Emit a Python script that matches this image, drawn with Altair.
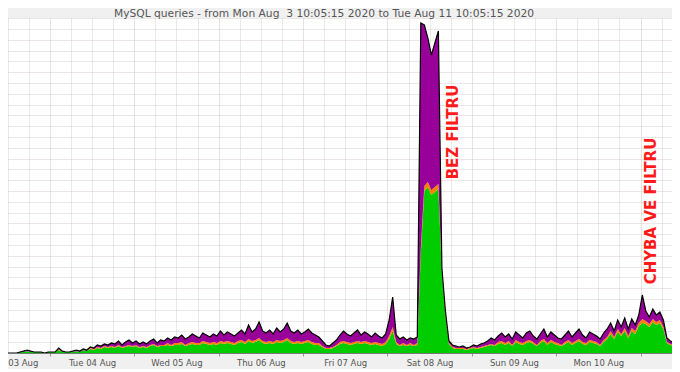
import altair as alt
import pandas as pd

# ---- data (hourly, starting Mon Aug 3 10:30) ----
series_names = ["select", "update", "cache_hits"]
series_colors = ["#00cc00", "#ff8000", "#990099"]

green = [0,0,0,0,0,1,1,2,1,1,
         1,1,0,1,1,1,3,1,1,1,
         1,2,1,3,2,4,3,5,4,6,
         5,6,5,7,5,6,7,6,7,5,
         6,5,7,8,6,7,7,8,7,8,
         8,9,7,8,9,8,8,10,9,8,
         9,8,10,9,10,9,8,10,11,9,
         12,10,11,13,10,9,10,9,11,10,
         11,13,10,9,10,9,10,11,9,8,
         8,6,4,4,5,7,9,10,9,8,
         9,10,9,10,9,8,9,8,7,9,
         14,22,9,7,8,7,8,7,8,100,
         162,166,158,161,164,80,38,9,5,4,
         4,4,3,4,5,4,5,6,7,8,
         7,9,10,8,10,7,11,9,8,10,
         11,9,7,10,12,8,11,9,8,7,
         9,11,8,10,12,9,8,11,10,9,
         7,11,14,19,14,21,17,22,15,22,
         19,27,30,29,26,31,28,30,24,10,
         8,7]
orange = [0,0,0,0,0,0,0,0,0,0,
          0,0,0,0,0,0,1,0,0,0,
          0,0,0,0,0,1,1,1,1,1,
          1,1,1,1,1,1,1,1,1,1,
          1,1,1,1,1,1,1,2,1,2,
          2,2,1,2,2,2,2,2,2,2,
          2,2,2,2,2,2,2,2,2,2,
          2,2,2,2,2,2,2,2,2,2,
          2,2,2,2,2,2,2,2,2,2,
          2,1,1,1,1,1,2,2,2,2,
          2,2,2,2,2,2,2,2,2,2,
          3,4,2,1,2,1,2,1,2,5,
          5,5,5,5,5,2,2,1,1,1,
          1,1,1,1,1,1,1,1,1,1,
          1,2,2,2,2,1,2,2,2,2,
          2,2,1,2,2,2,2,2,2,1,
          2,2,2,2,2,2,2,2,2,2,
          1,2,2,3,2,3,2,3,2,3,
          3,3,4,3,3,3,3,3,2,1,
          1,1]
purple = [0,0,0,0,0,0,1,1,1,0,
          0,0,0,0,0,0,1,1,0,0,
          1,1,1,1,1,1,1,2,2,2,
          2,3,3,4,2,4,5,3,4,3,
          4,3,4,5,3,5,4,5,5,6,
          5,7,6,6,8,7,5,8,7,6,
          8,7,10,7,9,8,7,8,10,8,
          14,9,11,16,10,9,11,8,12,9,
          11,15,10,9,11,8,9,11,9,8,
          6,5,3,2,4,5,7,10,8,7,
          9,11,7,9,8,6,9,7,6,8,
          16,30,7,6,6,5,5,6,6,225,
          161,144,135,144,153,3,2,2,2,2,
          1,2,1,1,2,2,3,3,4,6,
          5,6,8,6,7,6,8,7,5,8,
          9,6,6,7,10,6,8,7,5,6,
          7,9,6,8,10,7,5,8,7,6,
          6,7,8,8,6,9,7,10,7,9,
          6,8,24,10,7,10,7,8,7,4,
          3,2]

notes = ["BEZ FILTRU", "CHYBA VE FILTRU"]
note_times = ["2020-08-08T18:39:00", "2020-08-11T02:59:00"]
note_values = [221, 142]

title_text = "MySQL queries - from Mon Aug\u00a0 3 10:05:15 2020 to Tue Aug 11 10:05:15 2020"

# ---- tables ----
times = pd.date_range("2020-08-03 10:30", periods=len(green), freq="h").strftime("%Y-%m-%dT%H:%M:%S")
rows = []
for k, (name, vals) in enumerate(zip(series_names, [green, orange, purple])):
    for t, v in zip(times, vals):
        rows.append({"t": t, "v": v, "s": name, "k": k})
df = pd.DataFrame(rows)
notes_df = pd.DataFrame({"t": note_times, "y": note_values, "label": notes})

grid_times = pd.date_range("2020-08-03 12:00", "2020-08-11 06:00", freq="6h")
grid_vals = [alt.DateTime(year=g.year, month=g.month, date=g.day, hours=g.hour) for g in grid_times]

x_scale = alt.Scale(domain=[alt.DateTime(year=2020, month=8, date=3, hours=10, minutes=5, seconds=15),
                            alt.DateTime(year=2020, month=8, date=11, hours=10, minutes=5, seconds=15)])
y_scale = alt.Scale(domain=[0, 335], nice=False, zero=True)

first_label = "date(datum.value) == 3 && month(datum.value) == 7"
x_axis = alt.Axis(
    values=grid_vals, grid=True,
    gridColor={"condition": {"test": "hours(datum.value) == 0", "value": "#dcc0c0"}, "value": "#d2d2d2"},
    gridDash=[1, 1], gridWidth=1,
    labelExpr=("hours(datum.value) != 12 ? '' : (" + first_label +
               " ? timeFormat(datum.value, '%d %b') : timeFormat(datum.value, '%a %d %b'))"),
    labelAlign={"condition": {"test": first_label, "value": "left"}, "value": "center"},
    labelFont="DejaVu Sans", labelFontSize=8.5, labelColor="#555555",
    labelOverlap=False, labelFlush=False, labelPadding=2,
    tickSize=3,
    tickColor={"condition": {"test": "hours(datum.value) == 0", "value": "#999999"}, "value": "transparent"},
    domainColor="#777777", domainWidth=1, title=None,
)
y_axis = alt.Axis(
    orient="right", values=[round(10.8 * i, 1) for i in range(1, 32)],
    grid=True, gridColor="#d8cccc", gridDash=[1, 1], gridWidth=1,
    labels=False, ticks=False, domain=True, domainColor="#999999", title=None,
)

area = alt.Chart(df).mark_area(interpolate="linear", clip=True).encode(
    x=alt.X("t:T", scale=x_scale, axis=x_axis, title=None),
    y=alt.Y("v:Q", stack="zero", scale=y_scale, axis=y_axis, title=None),
    color=alt.Color("s:N", scale=alt.Scale(domain=series_names, range=series_colors), legend=None),
    order=alt.Order("k:Q", sort="ascending"),
)

line = alt.Chart(df).transform_aggregate(
    total="sum(v)", groupby=["t"]
).mark_line(color="black", strokeWidth=1.2, clip=True).encode(
    x=alt.X("t:T", scale=x_scale, axis=x_axis, title=None),
    y=alt.Y("total:Q", scale=y_scale, axis=y_axis, title=None),
)

text = alt.Chart(notes_df).mark_text(
    angle=270, font="DejaVu Sans", fontSize=15, fontWeight="bold", color="#ff1a1a",
    align="center", baseline="middle",
).encode(
    x=alt.X("t:T", scale=x_scale, axis=x_axis, title=None),
    y=alt.Y("y:Q", scale=y_scale, axis=y_axis, title=None),
    text="label:N",
)

title = alt.Chart(pd.DataFrame({"title": [title_text]})).mark_text(
    font="DejaVu Sans", fontSize=10.7, color="#555555", align="center", baseline="alphabetic",
).encode(x=alt.value(323), y=alt.value(-1.5), text="title:N")

chart = alt.layer(area, line, text, title).properties(
    width=675, height=335,
    padding={"left": -7, "top": 10, "right": -4, "bottom": 16},
    autosize=alt.AutoSizeParams(type="none"),
    background="#f0f0f0",
).configure_view(fill="white", stroke=None)

chart.save("out.html", embed_options={"renderer": "svg", "actions": False})
